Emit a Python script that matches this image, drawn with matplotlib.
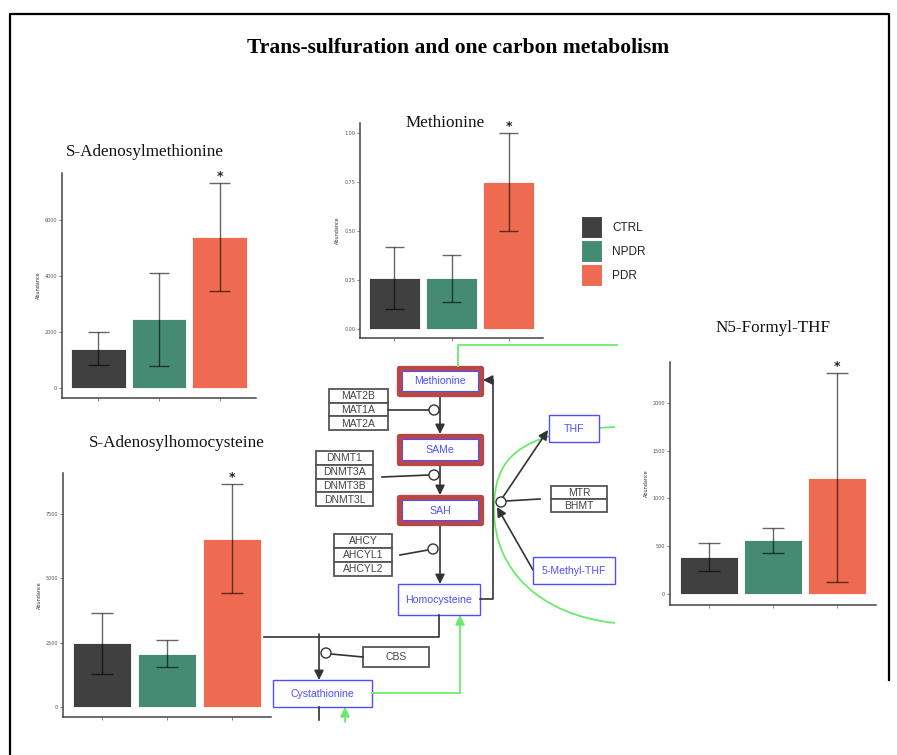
import numpy as np
import matplotlib
matplotlib.use("Agg")
import matplotlib.pyplot as plt
from matplotlib.patches import Rectangle, Circle, FancyArrowPatch, PathPatch
from matplotlib.path import Path

# group order and colours
groups = ["CTRL", "NPDR", "PDR"]
group_colors = ["#404040", "#458B73", "#EE6A50"]

# mean abundance and error bar limits per metabolite
sam_mean = [1410, 2450, 5390]
sam_low = [820, 790, 3460]
sam_high = [2000, 4110, 7320]
sam_ticks = [0, 2000, 4000, 6000]

met_mean = [0.26, 0.258, 0.75]
met_low = [0.10, 0.14, 0.50]
met_high = [0.42, 0.375, 1.00]
met_ticks = [0.00, 0.25, 0.50, 0.75, 1.00]
met_ticklabels = ["0.00", "0.25", "0.50", "0.75", "1.00"]

n5_mean = [386, 560, 1218]
n5_low = [240, 429, 125]
n5_high = [533, 690, 2312]
n5_ticks = [0, 500, 1000, 1500, 2000]

sah_mean = [2480, 2070, 6540]
sah_low = [1300, 1536, 4427]
sah_high = [3640, 2604, 8659]
sah_ticks = [0, 2500, 5000, 7500]

W, H = 897, 755
fig = plt.figure(figsize=(W / 100, H / 100), dpi=100)

# full-figure canvas in pixel units for the pathway drawing
bg = fig.add_axes([0, 0, 1, 1])
bg.set_xlim(0, W)
bg.set_ylim(H, 0)
bg.axis("off")

DARK = "#333333"
BLUE = "#4F4FFF"
GREEN = "#6BEB6B"
RED = "#B84848"
GENE = "#555555"

# outer frame
bg.plot([10, 10, 889, 889], [755, 14, 14, 680], color="black", lw=1.6)

fig.text(458 / W, 1 - 48 / H, "Trans-sulfuration and one carbon metabolism",
         ha="center", va="center", fontsize=15.5, fontweight="bold",
         family="Liberation Serif")


def metabolite(x0, y0, x1, y1, label, highlight=False):
    if highlight:
        bg.add_patch(Rectangle((x0 + 2, y0 + 2), x1 - x0 - 4, y1 - y0 - 4,
                               fill=False, ec=RED, lw=3.8, joinstyle="round"))
        bg.add_patch(Rectangle((x0 + 5, y0 + 5), x1 - x0 - 10, y1 - y0 - 10,
                               fill=False, ec=BLUE, lw=0.8))
    else:
        bg.add_patch(Rectangle((x0, y0), x1 - x0, y1 - y0,
                               fc="white", ec=BLUE, lw=1.0))
    bg.text((x0 + x1) / 2, (y0 + y1) / 2 + 0.5, label, color=BLUE,
            ha="center", va="center", fontsize=7.6, family="Liberation Sans")


def gene_stack(x0, y0, x1, y1, names):
    h = (y1 - y0) / len(names)
    for i, name in enumerate(names):
        bg.add_patch(Rectangle((x0, y0 + i * h), x1 - x0, h,
                               fc="white", ec=GENE, lw=1.3))
        bg.text((x0 + x1) / 2, y0 + (i + 0.5) * h + 0.5, name, color="#444444",
                ha="center", va="center", fontsize=7.5, family="Liberation Sans")


def arrow(p0, p1, color=DARK, lw=1.2):
    bg.add_patch(FancyArrowPatch(p0, p1, arrowstyle="-|>", mutation_scale=14,
                                 color=color, lw=lw, shrinkA=0, shrinkB=0))


def enzyme_node(x, y):
    bg.add_patch(Circle((x, y), 5, fc="white", ec=DARK, lw=1.0, zorder=3))


# green links
bg.plot([458, 458, 617], [366, 345, 345], color=GREEN, lw=1.3)
curve = Path([(615, 427), (515, 432), (494, 460), (494, 510),
              (494, 570), (540, 615), (615, 623)],
             [Path.MOVETO, Path.CURVE4, Path.CURVE4, Path.CURVE4,
              Path.CURVE4, Path.CURVE4, Path.CURVE4])
bg.add_patch(PathPatch(curve, fill=False, ec=GREEN, lw=1.3))
bg.plot([372, 460], [693, 693], color=GREEN, lw=1.3)
arrow((460, 693), (460, 615), color=GREEN, lw=1.3)
arrow((345, 722), (345, 707), color=GREEN, lw=1.3)

# methionine cycle
arrow((440, 396), (440, 434))
arrow((440, 465), (440, 495))
arrow((440, 525), (440, 584))
bg.plot([388, 429], [410, 410], color=DARK, lw=1.2)
enzyme_node(434, 410)
bg.plot([382, 429], [477, 475], color=DARK, lw=1.2)
enzyme_node(434, 475)
bg.plot([400, 428], [555, 550], color=DARK, lw=1.2)
enzyme_node(433, 549)

bg.plot([480, 493, 493], [599, 599, 380], color=DARK, lw=1.2)
arrow((493, 380), (483, 380))
arrow((533, 570), (497, 507))
arrow((499, 503), (548, 430))
bg.plot([540, 506], [499, 501], color=DARK, lw=1.2)
enzyme_node(501, 502)

# trans-sulfuration branch
bg.plot([439, 439, 264], [615, 637, 637], color=DARK, lw=1.2)
arrow((319, 634), (319, 680))
bg.plot([319, 319], [707, 720], color=DARK, lw=1.2)
bg.plot([331, 363], [654, 657], color=DARK, lw=1.2)
enzyme_node(326, 653)

metabolite(397, 366, 483, 396, "Methionine", highlight=True)
metabolite(397, 434, 483, 465, "SAMe", highlight=True)
metabolite(397, 495, 483, 525, "SAH", highlight=True)
metabolite(549, 415, 599, 442, "THF")
metabolite(533, 557, 615, 584, "5-Methyl-THF")
metabolite(398, 584, 480, 615, "Homocysteine")
metabolite(273, 680, 372, 707, "Cystathionine")

gene_stack(329, 389, 388, 430, ["MAT2B", "MAT1A", "MAT2A"])
gene_stack(316, 451, 373, 506, ["DNMT1", "DNMT3A", "DNMT3B", "DNMT3L"])
gene_stack(551, 486, 607, 512, ["MTR", "BHMT"])
gene_stack(334, 534, 392, 576, ["AHCY", "AHCYL1", "AHCYL2"])
gene_stack(363, 647, 429, 667, ["CBS"])

# legend
for i, (name, col) in enumerate(zip(groups, group_colors)):
    y = 216 + i * 24
    bg.add_patch(Rectangle((581, y), 21, 22, fc=col, ec="white", lw=0.8))
    bg.text(612, y + 12, name, ha="left", va="center", fontsize=8.5,
            family="Liberation Sans", color="#222222")


def bar_panel(box, mean, low, high, ticks, ylim, title, title_xy, ticklabels=None):
    x0, y0, x1, y1 = box
    ax = fig.add_axes([x0 / W, 1 - y1 / H, (x1 - x0) / W, (y1 - y0) / H])
    ax.set_facecolor("none")
    xs = np.arange(1, 4)
    ax.bar(xs, mean, width=0.9, color=group_colors, edgecolor="white", lw=0.6)
    ax.vlines(xs, low, high, color="black", alpha=0.6, lw=1.0)
    ax.hlines(low, xs - 0.17, xs + 0.17, color="black", alpha=0.6, lw=1.0)
    ax.hlines(high, xs - 0.17, xs + 0.17, color="black", alpha=0.6, lw=1.0)
    ax.text(3, high[2], "*", ha="center", va="bottom", fontsize=9,
            fontweight="bold", color="#222222")
    ax.set_xlim(0.4, 3.6)
    ax.set_ylim(*ylim)
    ax.set_xticks(xs)
    ax.set_xticklabels([])
    ax.set_yticks(ticks)
    if ticklabels is not None:
        ax.set_yticklabels(ticklabels)
    ax.tick_params(length=2, width=0.5, colors="#555555", labelsize=3.5, pad=1.5)
    for side in ["top", "right"]:
        ax.spines[side].set_visible(False)
    for side in ["left", "bottom"]:
        ax.spines[side].set_color("#444444")
        ax.spines[side].set_linewidth(1.1)
    ax.set_ylabel("Abundance", fontsize=3.5, color="#333333", labelpad=3)
    fig.text(title_xy[0] / W, 1 - title_xy[1] / H, title, ha="center", va="center",
             fontsize=12.3, family="Liberation Serif", color="#111111")
    return ax


bar_panel((62, 173, 256, 398), sam_mean, sam_low, sam_high, sam_ticks,
          (-357, 7679), "S-Adenosylmethionine", (145, 152))
bar_panel((360, 123, 543, 338), met_mean, met_low, met_high, met_ticks,
          (-0.046, 1.051), "Methionine", (445, 123), met_ticklabels)
bar_panel((670, 362, 876, 605), n5_mean, n5_low, n5_high, n5_ticks,
          (-115, 2427), "N5-Formyl-THF", (773, 328))
bar_panel((63, 473, 271, 717), sah_mean, sah_low, sah_high, sah_ticks,
          (-389, 9099), "S-Adenosylhomocysteine", (177, 443))

fig.savefig("out.png", dpi=100, facecolor="white")
